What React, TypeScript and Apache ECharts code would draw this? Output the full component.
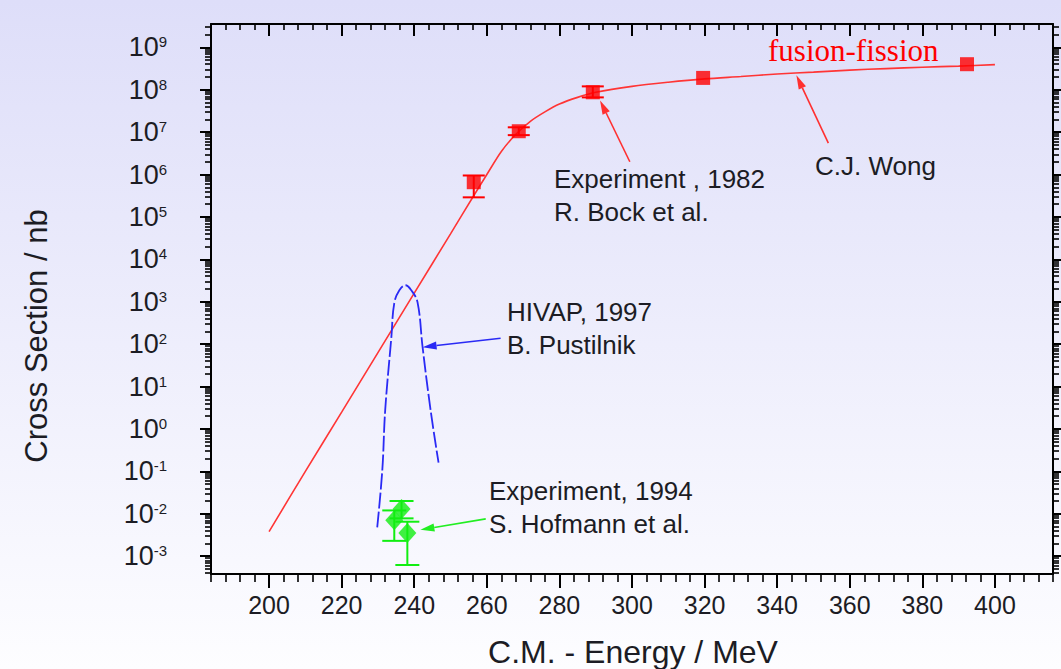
import React, { useEffect, useRef } from "react";
import * as echarts from "echarts";

// ---- axis ranges and tick labels ----
const X_MIN = 184;
const X_MAX = 416;
const Y_MIN_EXP = -3.42;
const Y_MAX_EXP = 9.55;
const xMajorTicks = [200, 220, 240, 260, 280, 300, 320, 340, 360, 380, 400];
const yDecades = [-3, -2, -1, 0, 1, 2, 3, 4, 5, 6, 7, 8, 9];

// ---- C.J. Wong fusion-fission calculation (red curve) ----
const wongEnergy = [200, 210, 220, 230, 240, 250, 256, 260, 264, 268, 272, 276, 280, 285, 290, 300, 310, 320, 330, 340, 350, 360, 370, 380, 390, 400];
const wongSigma = [3.8e-3, 0.1, 2.5, 63, 1.6e3, 4.0e4, 2.8e5, 1.0e6, 3.5e6, 8.9e6, 1.8e7, 3.0e7, 4.6e7, 6.6e7, 8.7e7, 1.2e8, 1.5e8, 1.8e8, 2.05e8, 2.35e8, 2.6e8, 2.9e8, 3.15e8, 3.4e8, 3.6e8, 3.9e8];

// ---- HIVAP 1997, B. Pustilnik (blue curve) ----
const hivapEnergy = [229.8, 231.2, 232.0, 233.7, 234.5, 235.9, 237.6, 239.2, 240.9, 242.3, 244.5, 246.7];
const hivapSigma = [4.8e-3, 0.107, 2.8, 148, 933, 1.86e3, 2.45e3, 1.86e3, 977, 85, 2.8, 0.16];

// ---- Experiment 1982, R. Bock et al. (red squares) ----
const bockEnergy = [256.4, 268.8, 289.2, 319.6, 392.3];
const bockSigma = [6.6e5, 1.05e7, 8.7e7, 1.9e8, 4.0e8];
const bockLow = [2.9e5, 8.5e6, 6.6e7, null, null];
const bockHigh = [9.5e5, 1.3e7, 1.2e8, null, null];

// ---- Experiment 1994, S. Hofmann et al. (green diamonds) ----
const hofEnergy = [236.5, 234.5, 238.1];
const hofSigma = [1.3e-2, 7.0e-3, 3.5e-3];
const hofLow = [7.8e-3, 2.3e-3, 6.2e-4];
const hofHigh = [2.0e-2, 1.2e-2, 6.5e-3];

// ---- annotation arrows: tail energy, tail sigma, head energy, head sigma ----
const arrowTailE = [354.1, 299.4, 263.8, 259.7];
const arrowTailS = [5.5e6, 2.0e6, 138, 7.6e-3];
const arrowHeadE = [345.3, 291.2, 242.3, 241.7];
const arrowHeadS = [2.2e8, 5.6e7, 85, 4.2e-3];
const arrowColors = ["#FF3030", "#FF3030", "#2A2AF5", "#22EE22"];

const FONT = "'Liberation Sans', Arial, sans-serif";
const TXT = "#1c1c24";

const lg = (v: number) => Math.log10(v);

const xMinorTicks: number[] = [];
for (let v = X_MIN; v <= X_MAX; v += 4) if (v % 20 !== 0) xMinorTicks.push(v);
const yMinorTicks: number[] = [];
for (let n = -4; n <= 9; n++) {
  for (let k = 2; k <= 9; k++) {
    const t = n + Math.log10(k);
    if (t >= Y_MIN_EXP && t <= Y_MAX_EXP) yMinorTicks.push(t);
  }
}

const errRender = (color: string, half: number) => (params: any, api: any) => {
  const x = api.value(0);
  const pLo = api.coord([x, api.value(1)]);
  const pHi = api.coord([x, api.value(2)]);
  const st = { stroke: color, lineWidth: 2 };
  return {
    type: "group",
    children: [
      { type: "line", shape: { x1: pLo[0], y1: pLo[1], x2: pHi[0], y2: pHi[1] }, style: st },
      { type: "line", shape: { x1: pLo[0] - half, y1: pLo[1], x2: pLo[0] + half, y2: pLo[1] }, style: st },
      { type: "line", shape: { x1: pHi[0] - half, y1: pHi[1], x2: pHi[0] + half, y2: pHi[1] }, style: st },
    ],
  };
};

const arrowRender = (params: any, api: any) => {
  const p1 = api.coord([api.value(0), api.value(1)]);
  const p2 = api.coord([api.value(2), api.value(3)]);
  const color = arrowColors[params.dataIndex];
  const dx = p2[0] - p1[0];
  const dy = p2[1] - p1[1];
  const len = Math.hypot(dx, dy);
  const ux = dx / len;
  const uy = dy / len;
  const L = 14;
  const W = 4;
  const bx = p2[0] - ux * L;
  const by = p2[1] - uy * L;
  return {
    type: "group",
    children: [
      { type: "line", shape: { x1: p1[0], y1: p1[1], x2: bx, y2: by }, style: { stroke: color, lineWidth: 1.6 } },
      {
        type: "polygon",
        shape: { points: [[p2[0], p2[1]], [bx - uy * W, by + ux * W], [bx + uy * W, by - ux * W]] },
        style: { fill: color },
      },
    ],
  };
};

const xAxisBase = {
  type: "value",
  min: X_MIN,
  max: X_MAX,
  splitLine: { show: false },
};
const yAxisBase = {
  type: "value",
  min: Y_MIN_EXP,
  max: Y_MAX_EXP,
  splitLine: { show: false },
};

export default function App() {
  const ref = useRef<HTMLDivElement>(null);

  useEffect(() => {
    if (!ref.current) return;
    const chart = echarts.init(ref.current, undefined, { renderer: "svg" });

    const option: any = {
      animation: false,
      backgroundColor: new echarts.graphic.LinearGradient(0, 0, 0, 1, [
        { offset: 0, color: "#DEDEF9" },
        { offset: 1, color: "#FDFDFF" },
      ]),
      grid: { left: 211, right: 8, top: 24, bottom: 95 },
      xAxis: [
        {
          ...xAxisBase,
          position: "bottom",
          axisLine: { show: true, onZero: false, lineStyle: { color: "#000", width: 2 } },
          axisTick: { show: true, customValues: xMajorTicks, length: 14, lineStyle: { color: "#000", width: 2 } },
          axisLabel: { show: true, customValues: xMajorTicks, margin: 18, fontSize: 25, fontFamily: FONT, color: TXT },
        },
        {
          ...xAxisBase,
          position: "bottom",
          axisLine: { show: false, onZero: false },
          axisTick: { show: true, customValues: xMinorTicks, length: 8, lineStyle: { color: "#000", width: 1.6 } },
          axisLabel: { show: false },
        },
        {
          ...xAxisBase,
          position: "top",
          axisLine: { show: true, onZero: false, lineStyle: { color: "#000", width: 2 } },
          axisTick: { show: true, inside: true, customValues: xMajorTicks, length: 12, lineStyle: { color: "#000", width: 2 } },
          axisLabel: { show: false },
        },
        {
          ...xAxisBase,
          position: "top",
          axisLine: { show: false, onZero: false },
          axisTick: { show: true, inside: true, customValues: xMinorTicks, length: 6, lineStyle: { color: "#000", width: 1.6 } },
          axisLabel: { show: false },
        },
      ],
      yAxis: [
        {
          ...yAxisBase,
          position: "left",
          axisLine: { show: true, onZero: false, lineStyle: { color: "#000", width: 2 } },
          axisTick: { show: true, customValues: yDecades, length: 11, lineStyle: { color: "#000", width: 2 } },
          axisLabel: {
            show: true,
            customValues: yDecades,
            margin: 44,
            formatter: (v: number) => `{b|10}{s|${Math.round(v)}}`,
            rich: {
              b: { fontSize: 27, lineHeight: 26, fontFamily: FONT, color: TXT },
              s: { fontSize: 15, lineHeight: 14, verticalAlign: "top", fontFamily: FONT, color: TXT },
            },
          },
        },
        {
          ...yAxisBase,
          position: "left",
          axisLine: { show: false, onZero: false },
          axisTick: { show: true, customValues: yMinorTicks, length: 6, lineStyle: { color: "#000", width: 1.6 } },
          axisLabel: { show: false },
        },
        {
          ...yAxisBase,
          position: "right",
          axisLine: { show: true, onZero: false, lineStyle: { color: "#000", width: 2 } },
          axisTick: { show: true, customValues: yDecades, length: 11, lineStyle: { color: "#000", width: 2 } },
          axisLabel: { show: false },
        },
        {
          ...yAxisBase,
          position: "right",
          axisLine: { show: false, onZero: false },
          axisTick: { show: true, customValues: yMinorTicks, length: 6, lineStyle: { color: "#000", width: 1.6 } },
          axisLabel: { show: false },
        },
      ],
      series: [
        {
          name: "C.J. Wong",
          type: "line",
          xAxisIndex: 0,
          yAxisIndex: 0,
          data: wongEnergy.map((e, i) => [e, lg(wongSigma[i])]),
          symbol: "none",
          smooth: 0.3,
          lineStyle: { color: "#FF3535", width: 1.6 },
          z: 3,
        },
        {
          name: "HIVAP, 1997",
          type: "line",
          xAxisIndex: 0,
          yAxisIndex: 0,
          data: hivapEnergy.map((e, i) => [e, lg(hivapSigma[i])]),
          symbol: "none",
          smooth: 0.4,
          lineStyle: { color: "#2A2AF5", width: 1.8, type: [16, 3] },
          z: 3,
        },
        {
          name: "Bock errors",
          type: "custom",
          xAxisIndex: 0,
          yAxisIndex: 0,
          renderItem: errRender("#FF0000", 11),
          encode: { x: 0, y: [1, 2] },
          data: bockEnergy
            .map((e, i) => (bockLow[i] == null ? null : [e, lg(bockLow[i] as number), lg(bockHigh[i] as number)]))
            .filter((d) => d !== null),
          z: 4,
        },
        {
          name: "Experiment , 1982",
          type: "scatter",
          xAxisIndex: 0,
          yAxisIndex: 0,
          data: bockEnergy.map((e, i) => [e, lg(bockSigma[i])]),
          symbol: "rect",
          symbolSize: 14,
          itemStyle: { color: "#FF0000" },
          z: 5,
        },
        {
          name: "Hofmann errors",
          type: "custom",
          xAxisIndex: 0,
          yAxisIndex: 0,
          renderItem: errRender("#11EE11", 12),
          encode: { x: 0, y: [1, 2] },
          data: hofEnergy.map((e, i) => [e, lg(hofLow[i]), lg(hofHigh[i])]),
          z: 4,
        },
        {
          name: "Experiment, 1994",
          type: "scatter",
          xAxisIndex: 0,
          yAxisIndex: 0,
          data: hofEnergy.map((e, i) => [e, lg(hofSigma[i])]),
          symbol: "diamond",
          symbolSize: [18, 20],
          itemStyle: { color: "#11EE11" },
          z: 5,
        },
        {
          name: "arrows",
          type: "custom",
          xAxisIndex: 0,
          yAxisIndex: 0,
          renderItem: arrowRender,
          encode: { x: [0, 2], y: [1, 3] },
          data: arrowTailE.map((e, i) => [e, lg(arrowTailS[i]), arrowHeadE[i], lg(arrowHeadS[i])]),
          z: 6,
        },
      ],
      graphic: [
        { type: "text", x: 768, y: 50, style: { text: "fusion-fission", fill: "#FF0000", font: "31px 'Liberation Serif', 'Times New Roman', serif", textAlign: "left", textVerticalAlign: "middle" } },
        { type: "text", x: 815, y: 166, style: { text: "C.J. Wong", fill: TXT, font: `26px ${FONT}`, textAlign: "left", textVerticalAlign: "middle" } },
        { type: "text", x: 554, y: 179, style: { text: "Experiment , 1982", fill: TXT, font: `26px ${FONT}`, textAlign: "left", textVerticalAlign: "middle" } },
        { type: "text", x: 554, y: 212, style: { text: "R. Bock et al.", fill: TXT, font: `26px ${FONT}`, textAlign: "left", textVerticalAlign: "middle" } },
        { type: "text", x: 507, y: 312, style: { text: "HIVAP, 1997", fill: TXT, font: `26px ${FONT}`, textAlign: "left", textVerticalAlign: "middle" } },
        { type: "text", x: 507, y: 345, style: { text: "B. Pustilnik", fill: TXT, font: `26px ${FONT}`, textAlign: "left", textVerticalAlign: "middle" } },
        { type: "text", x: 489, y: 491, style: { text: "Experiment, 1994", fill: TXT, font: `26px ${FONT}`, textAlign: "left", textVerticalAlign: "middle" } },
        { type: "text", x: 489, y: 524, style: { text: "S. Hofmann et al.", fill: TXT, font: `26px ${FONT}`, textAlign: "left", textVerticalAlign: "middle" } },
        { type: "text", x: 633, y: 652, style: { text: "C.M. - Energy / MeV", fill: TXT, font: `32px ${FONT}`, textAlign: "center", textVerticalAlign: "middle" } },
        { type: "text", x: 36, y: 336, rotation: Math.PI / 2, style: { text: "Cross Section / nb", fill: TXT, font: `31px ${FONT}`, textAlign: "center", textVerticalAlign: "middle" } },
      ],
    };

    chart.setOption(option);
    return () => chart.dispose();
  }, []);

  return (
    <div
      ref={ref}
      style={{ position: "fixed", left: 0, top: 0, width: 1061, height: 669 }}
    />
  );
}
